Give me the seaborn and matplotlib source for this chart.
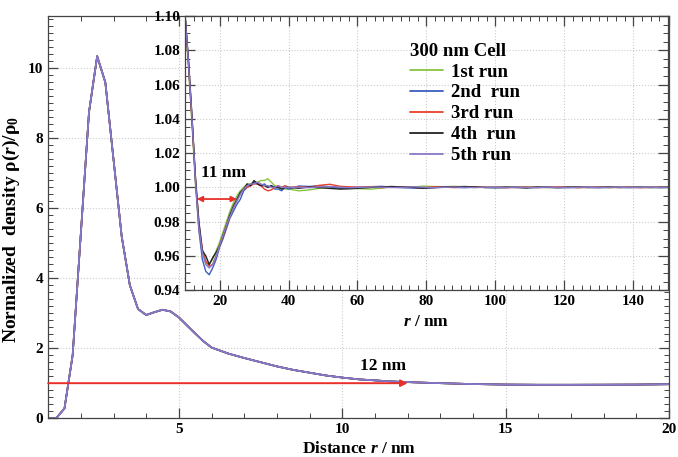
import numpy as np
import pandas as pd
import matplotlib
matplotlib.use("Agg")
import matplotlib.pyplot as plt
from matplotlib.ticker import MultipleLocator
from matplotlib.lines import Line2D
import seaborn as sns

# ---------------- data ----------------
main_r = [1.0, 1.25, 1.5, 1.75, 2.25, 2.5, 2.75, 3.0, 3.25, 3.5, 3.75, 4.0, 4.25, 4.5,
          4.75, 5.0, 5.25, 5.5, 5.75, 6.0, 6.5, 7.0, 7.5, 8.0, 8.5, 9.0, 9.5, 10.0,
          10.5, 11.0, 11.5, 12.0, 13.0, 14.0, 15.0, 16.0, 17.0, 18.0, 19.0, 20.0]
main_density = [0.0, 0.0, 0.28, 1.8, 8.75, 10.35, 9.6, 7.4, 5.2, 3.8, 3.12, 2.95, 3.03, 3.1,
                3.05, 2.88, 2.65, 2.42, 2.2, 2.02, 1.85, 1.72, 1.6, 1.48, 1.38, 1.3, 1.22, 1.16,
                1.11, 1.08, 1.05, 1.03, 1.0, 0.975, 0.96, 0.955, 0.955, 0.957, 0.96, 0.97]

inset_r = [10, 11, 12, 13, 14, 15, 16, 17, 18, 19, 20, 21, 22, 23, 24, 25, 26, 27, 28, 29,
           30, 31, 32, 33, 34, 35, 36, 37, 38, 39, 40,
           43, 46, 49, 52, 55, 58, 61, 64, 67, 70, 73, 76, 79, 82, 85, 88, 91, 94, 97, 100,
           103, 106, 109, 112, 115, 118, 121, 124, 127, 130, 133, 136, 139, 142, 145, 148, 150]

run1 = [1.100, 1.070, 1.037, 1.002, 0.976, 0.962, 0.956, 0.955, 0.958, 0.963, 0.968, 0.974,
        0.980, 0.986, 0.991, 0.995, 0.998, 1.000, 1.002, 1.002, 1.003, 1.003, 1.004, 1.004,
        1.005, 1.003, 1.001, 1.000, 1.000, 0.999, 0.999,
        0.998, 0.9985, 0.9995, 1.0005, 1.0003, 0.9995, 0.9992, 0.9990, 0.9996, 1.0003, 1.0001,
        1.0002, 1.0007, 1.0005, 1.0004, 1.0006, 1.0003, 0.9999, 1.0001, 0.9998, 1.0000, 1.0003,
        1.0004, 1.0001, 0.9999, 1.0000, 1.0002, 0.9999, 1.0001, 1.0000, 0.9998, 1.0001, 1.0000,
        0.9999, 1.0001, 1.0000, 0.9999]
run2 = [1.100, 1.074, 1.041, 1.004, 0.975, 0.958, 0.951, 0.949, 0.953, 0.958, 0.965, 0.970,
        0.976, 0.982, 0.986, 0.990, 0.993, 0.998, 1.000, 1.001, 1.003, 1.002, 1.001, 1.002,
        1.000, 1.001, 0.999, 0.999, 0.998, 1.000, 0.999,
        1.0008, 1.0005, 1.0010, 1.0003, 0.9995, 0.9998, 1.0002, 1.0004, 1.0006, 1.0001, 0.9998,
        0.9996, 0.9994, 0.9999, 1.0002, 1.0000, 0.9998, 1.0002, 1.0000, 0.9997, 0.9999, 1.0001,
        0.9998, 1.0000, 1.0002, 0.9999, 0.9998, 1.0001, 1.0000, 0.9998, 1.0001, 1.0000, 0.9999,
        1.0001, 1.0000, 0.9999, 1.0000]
run3 = [1.100, 1.071, 1.039, 1.005, 0.979, 0.964, 0.957, 0.954, 0.955, 0.960, 0.966, 0.971,
        0.977, 0.983, 0.988, 0.992, 0.996, 0.999, 1.000, 1.001, 1.002, 1.002, 1.001, 0.999,
        0.998, 0.9985, 1.000, 1.001, 1.000, 1.001, 1.000,
        1.0004, 1.0000, 1.0012, 1.0018, 1.0006, 1.0003, 1.0000, 1.0004, 0.9998, 1.0002, 1.0004,
        1.0000, 0.9998, 1.0003, 1.0001, 0.9999, 1.0002, 1.0004, 1.0000, 1.0001, 0.9998, 1.0000,
        1.0002, 0.9999, 1.0000, 1.0003, 1.0001, 0.9998, 1.0000, 1.0002, 0.9999, 1.0000, 1.0001,
        0.9998, 1.0000, 1.0001, 1.0000]
run4 = [1.100, 1.073, 1.041, 1.006, 0.980, 0.963, 0.960, 0.955, 0.959, 0.962, 0.966, 0.972,
        0.978, 0.984, 0.989, 0.993, 0.997, 0.999, 1.002, 1.001, 1.004, 1.002, 1.001, 1.001,
        1.000, 1.001, 1.000, 1.000, 0.999, 1.000, 1.000,
        0.9995, 1.0002, 0.9998, 0.9994, 0.9990, 0.9992, 0.9996, 1.0000, 1.0003, 1.0005, 1.0002,
        1.0000, 0.9996, 0.9998, 1.0001, 1.0003, 1.0005, 1.0002, 0.9999, 1.0000, 1.0002, 0.9999,
        0.9997, 1.0001, 1.0000, 0.9998, 1.0001, 1.0002, 0.9999, 1.0000, 1.0002, 0.9999, 1.0000,
        1.0001, 0.9999, 1.0000, 1.0001]
run5 = [1.100, 1.072, 1.040, 1.004, 0.977, 0.962, 0.955, 0.953, 0.955, 0.960, 0.966, 0.972,
        0.978, 0.983, 0.988, 0.992, 0.996, 0.999, 1.001, 1.002, 1.002, 1.003, 1.002, 1.001,
        1.001, 1.000, 1.000, 1.001, 1.000, 1.000, 1.000,
        1.0001, 0.9998, 1.0003, 1.0005, 1.0001, 0.9998, 1.0000, 1.0002, 1.0001, 0.9999, 1.0000,
        1.0003, 1.0001, 0.9998, 1.0000, 1.0002, 1.0000, 0.9999, 1.0001, 1.0000, 0.9999, 1.0001,
        1.0000, 0.9998, 1.0001, 1.0000, 0.9999, 1.0000, 1.0001, 0.9999, 1.0000, 1.0001, 0.9999,
        1.0000, 1.0001, 0.9999, 1.0000]

run_labels = ["1st run", "2nd  run", "3rd run", "4th  run", "5th run"]
run_colors = ["#86c440", "#3b5fc0", "#e8402a", "#222222", "#8a78c8"]
legend_title = "300 nm Cell"

# ---------------- style ----------------
sns.set_theme(style="ticks")
plt.rcParams["font.family"] = ["Liberation Serif", "DejaVu Serif"]
plt.rcParams["font.weight"] = "bold"
plt.rcParams["axes.labelweight"] = "bold"
plt.rcParams["text.color"] = "black"
plt.rcParams["axes.labelcolor"] = "black"
plt.rcParams["mathtext.fontset"] = "custom"
plt.rcParams["mathtext.rm"] = "Liberation Serif:bold"
plt.rcParams["mathtext.it"] = "Liberation Serif:italic:bold"
plt.rcParams["mathtext.bf"] = "Liberation Serif:bold"

fig = plt.figure(figsize=(6.78, 4.57), dpi=100)
ax = fig.add_axes([0.071, 0.085, 0.916, 0.880])
axi = fig.add_axes([0.273, 0.365, 0.712, 0.600])

spine_col = "#444444"

def style_axes(a, fs):
    for s in a.spines.values():
        s.set_color(spine_col)
        s.set_linewidth(0.9)
    a.tick_params(which="both", direction="in", top=True, right=True,
                  colors=spine_col, labelcolor="black", labelsize=fs)
    a.tick_params(which="major", length=7, width=0.9)
    a.tick_params(which="minor", length=3.5, width=0.7)
    a.grid(True, which="major", color="#cccccc", linestyle=":", linewidth=0.8)
    for lab in a.get_xticklabels() + a.get_yticklabels():
        lab.set_fontweight("bold")

# ---------------- main plot ----------------
main_df = pd.DataFrame({"r": main_r, "density": main_density})
main_order = [0, 3, 2, 1, 4]
for k in main_order:
    sns.lineplot(data=main_df, x="r", y="density", ax=ax, color=run_colors[k],
                 linewidth=1.2, legend=False)
ax.set_xlim(1, 20)
ax.set_ylim(0, 11.5)
ax.xaxis.set_major_locator(MultipleLocator(5))
ax.xaxis.set_minor_locator(MultipleLocator(1))
ax.yaxis.set_major_locator(MultipleLocator(2))
ax.yaxis.set_minor_locator(MultipleLocator(0.2))
ax.set_xticks([5, 10, 15, 20])
style_axes(ax, 11)
ax.set_xlabel(r"Distance $\mathit{r}$ / nm", fontsize=12.5, fontweight="bold")
ax.xaxis.set_label_coords(0.5, -0.058)
ax.set_ylabel(r"Normalized  density ρ($\mathit{r}$)/ρ$_0$", fontsize=14,
              fontweight="bold")
ax.yaxis.set_label_coords(-0.042, 0.47)

ax.annotate("", xy=(12.0, 1.0), xytext=(1.0, 1.0),
            arrowprops=dict(arrowstyle="-|>", color="#e8302a", lw=1.4,
                            mutation_scale=10, shrinkA=0, shrinkB=0))
ax.text(11.25, 1.25, "12 nm", ha="center", va="bottom", fontsize=12.5, fontweight="bold")

# ---------------- inset ----------------
long_df = pd.DataFrame({
    "r": inset_r * 5,
    "density": run1 + run2 + run3 + run4 + run5,
    "run": sum([[lab] * len(inset_r) for lab in run_labels], []),
})
sns.lineplot(data=long_df, x="r", y="density", hue="run", hue_order=run_labels,
             palette=run_colors, ax=axi, linewidth=1.0, legend=False, sort=True)
axi.set_xlim(10, 150)
axi.set_ylim(0.94, 1.10)
axi.xaxis.set_major_locator(MultipleLocator(20))
axi.xaxis.set_minor_locator(MultipleLocator(2.5))
axi.yaxis.set_major_locator(MultipleLocator(0.02))
axi.yaxis.set_minor_locator(MultipleLocator(0.005))
axi.set_xticks([20, 40, 60, 80, 100, 120, 140])
axi.set_yticks([0.94, 0.96, 0.98, 1.00, 1.02, 1.04, 1.06, 1.08, 1.10])
axi.set_yticklabels(["%.2f" % v for v in [0.94, 0.96, 0.98, 1.00, 1.02, 1.04, 1.06, 1.08, 1.10]])
style_axes(axi, 11)
axi.set_xlabel(r"$\mathit{r}$ / nm", fontsize=12.5, fontweight="bold", labelpad=4)
axi.set_ylabel("")

axi.annotate("", xy=(13.4, 0.9932), xytext=(25.0, 0.9932),
             arrowprops=dict(arrowstyle="<|-|>", color="#e8302a", lw=1.3,
                             mutation_scale=8, shrinkA=0, shrinkB=0))
axi.text(14.5, 1.0035, "11 nm", ha="left", va="bottom", fontsize=12.5, fontweight="bold")

handles = [Line2D([0], [0], color=c, lw=1.3) for c in run_colors]
leg = axi.legend(handles, run_labels, title=legend_title, loc="upper left",
                 bbox_to_anchor=(0.45, 0.93), frameon=False, fontsize=13.5,
                 title_fontsize=13.5, handlelength=1.75, handletextpad=0.45,
                 labelspacing=0.2, borderaxespad=0)
leg._legend_box.align = "left"
leg.get_title().set_fontweight("bold")
for t in leg.get_texts():
    t.set_fontweight("bold")

fig.savefig("out.png", dpi=100)
